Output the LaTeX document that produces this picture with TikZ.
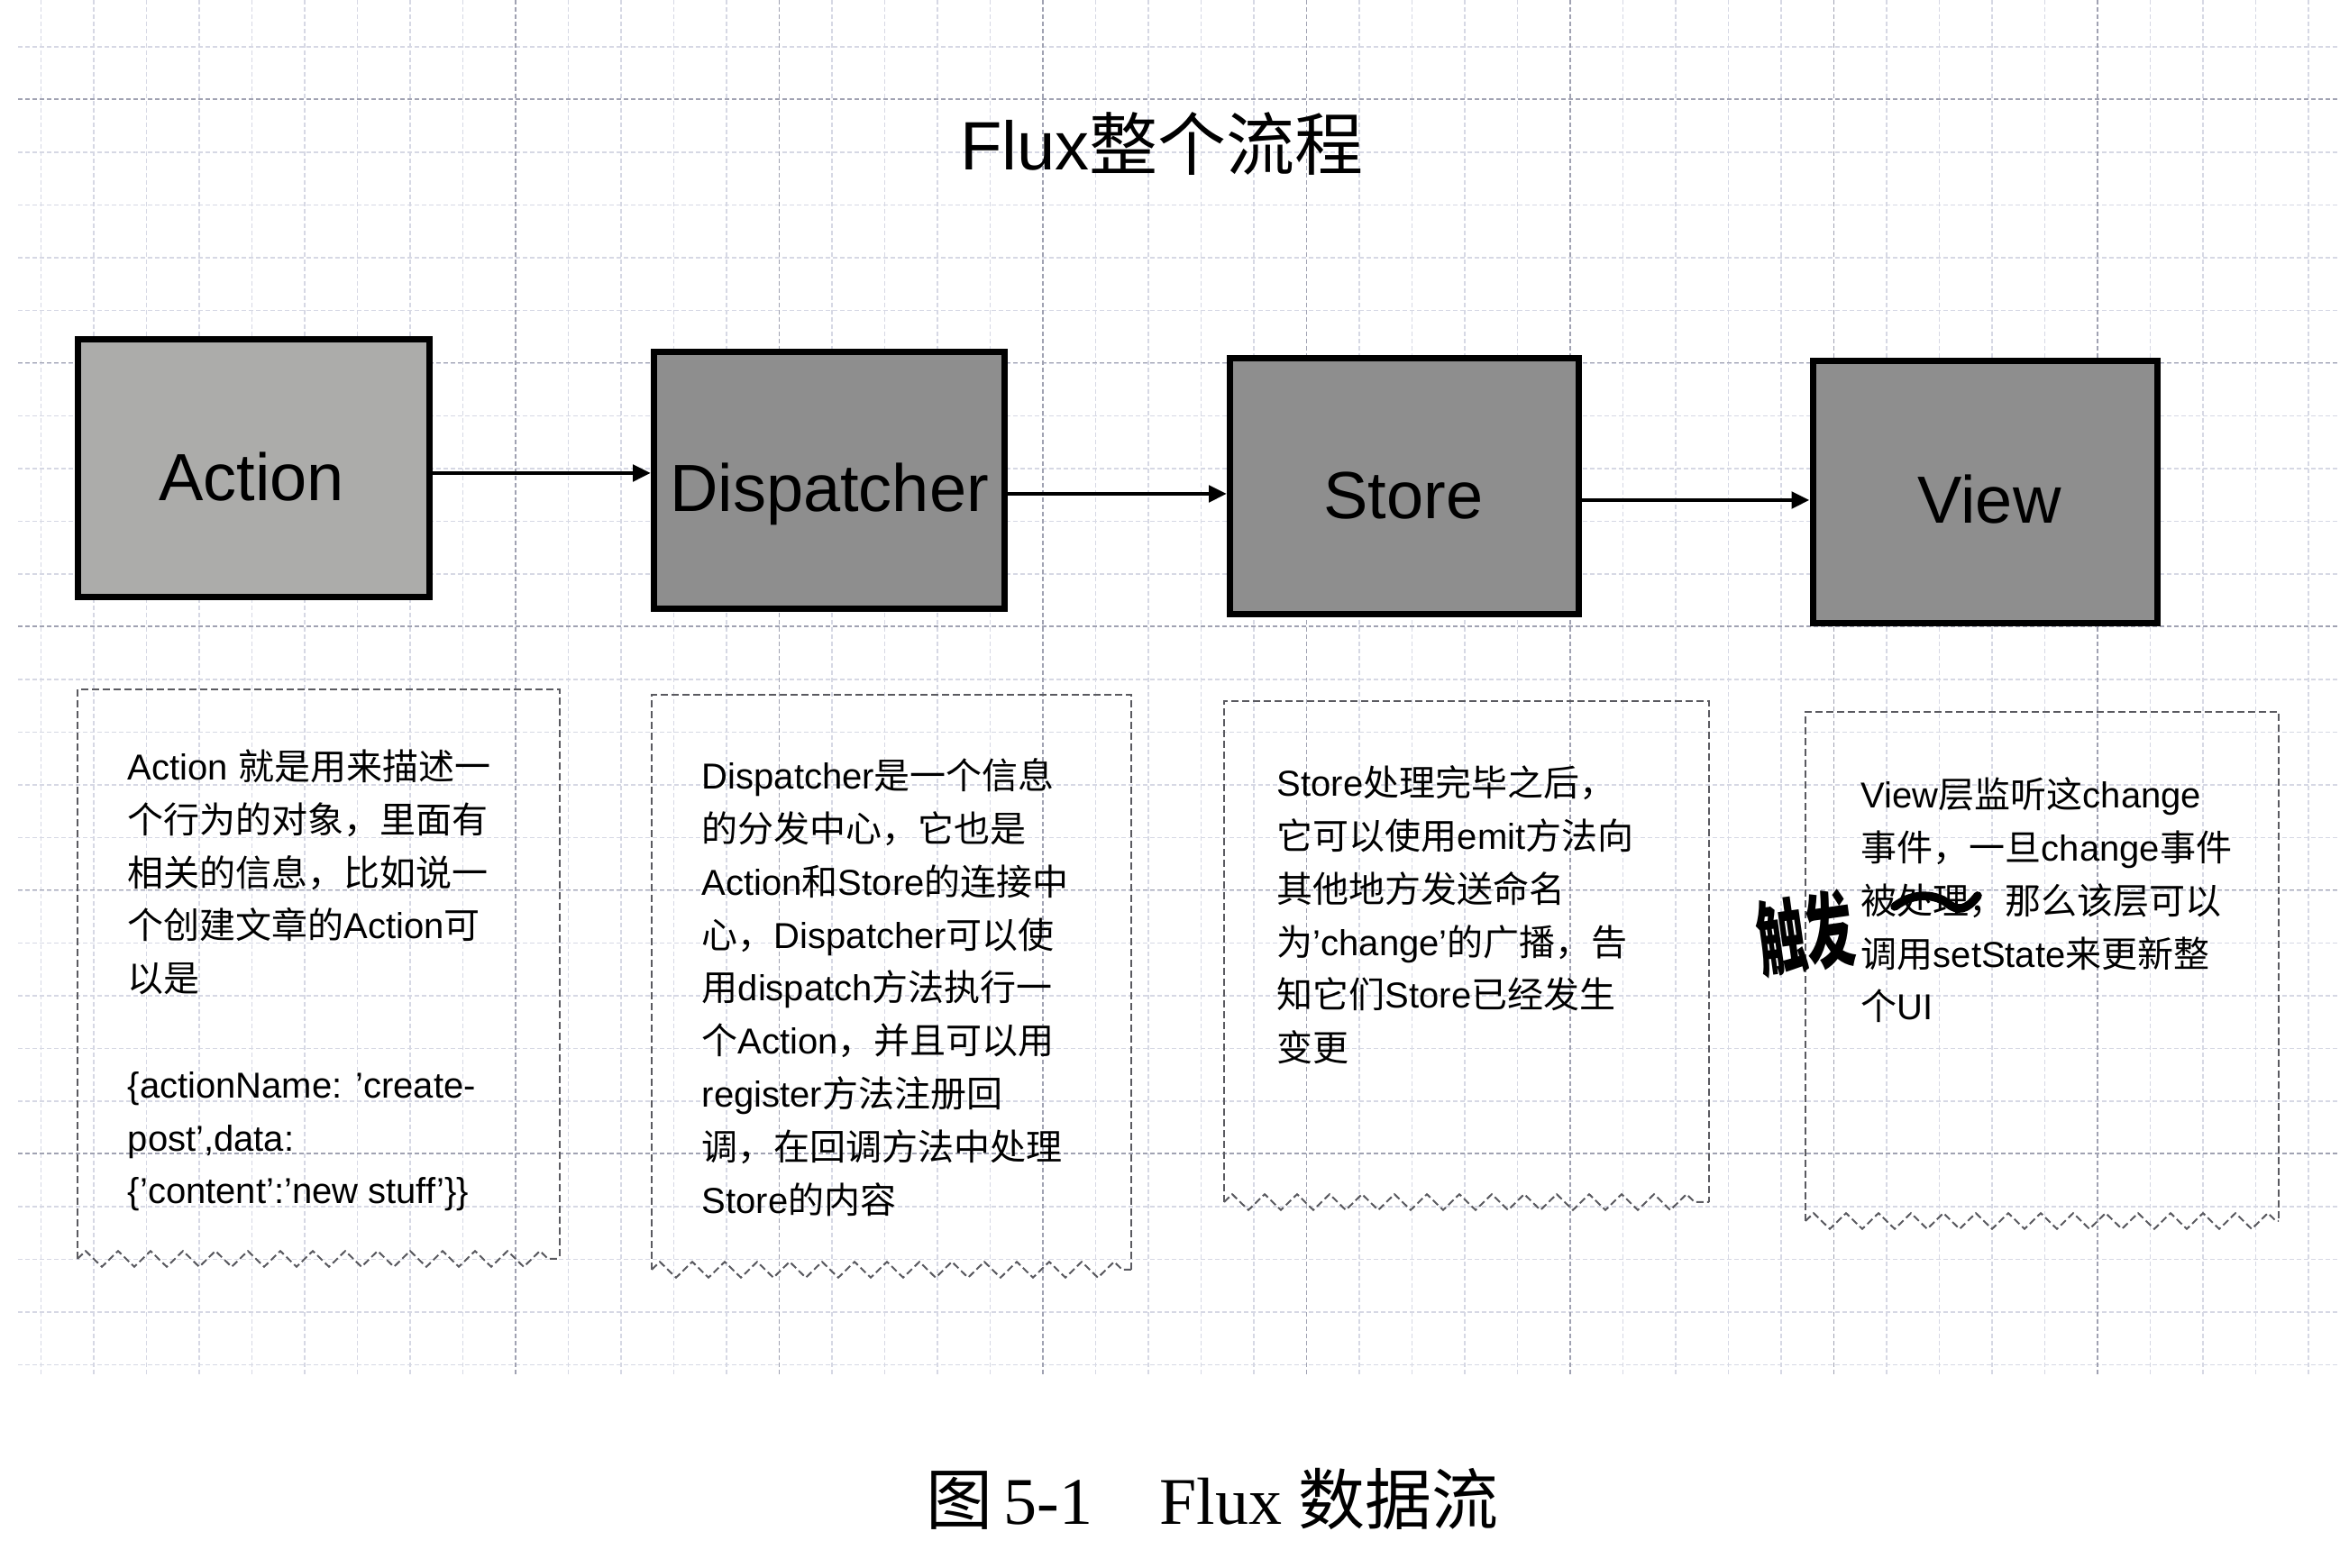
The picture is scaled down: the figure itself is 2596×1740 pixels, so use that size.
\documentclass[tikz,border=0pt]{standalone}
\usepackage{fontspec}
\setmainfont{Liberation Sans}
\newfontfamily\zhfont{Noto Sans CJK SC}
\newfontfamily\capserif{Liberation Serif}
\usetikzlibrary{arrows.meta,decorations.pathmorphing}
\newcommand\zh[1]{{\zhfont #1}}
\definecolor{gridc}{RGB}{214,216,228}
\definecolor{gridd}{RGB}{160,162,178}
\definecolor{actionfill}{RGB}{172,172,170}
\definecolor{stagefill}{RGB}{142,142,142}
\definecolor{framec}{RGB}{90,90,96}
\begin{document}
\begin{tikzpicture}[x=0.25pt,y=-0.25pt,
  gridminor/.style={draw=gridc, line width=0.35pt, dash pattern=on 1.2pt off 0.8pt},
  gridmajor/.style={draw=gridd, line width=0.4pt, dash pattern=on 1.2pt off 0.8pt},
  stage/.style={draw=black, line width=1.75pt, fill=stagefill, inner sep=0pt},
  stagelabel/.style={inner sep=0pt, font=\fontsize{18.5}{20}\selectfont},
  flow/.style={line width=1.2pt, -{Triangle[length=5pt,width=4.5pt]}},
  notebox/.style={draw=framec, line width=0.5pt, dash pattern=on 2pt off 1pt},
  zig/.style={notebox, decorate, decoration={zigzag, segment length=9pt, amplitude=2.2pt}},
  desc/.style={anchor=north west, align=left, inner sep=0pt,
    font=\fontsize{10}{14.7}\selectfont}]
\useasboundingbox (0,0) rectangle (2596,1740);
\fill[white] (0,0) rectangle (2596,1740);

% notebook grid
\foreach \k in {0,...,25} {
  \pgfmathsetmacro\yy{52+\k*58.5}
  \draw[gridminor] (20,\yy) -- (2596,\yy);
}
\foreach \k in {0,...,43} {
  \pgfmathsetmacro\xx{45.5+\k*58.5}
  \draw[gridminor] (\xx,0) -- (\xx,1525);
}
\foreach \yy in {110,402.5,695,987.5,1280}
  \draw[gridmajor] (20,\yy) -- (2596,\yy);
\foreach \xx in {572,864.5,1157,1449.5,1742,2034.5,2327}
  \draw[gridmajor] (\xx,0) -- (\xx,1525);

% title
\node (title) at (1289,160) {\fontsize{19}{22}\selectfont Flux\zh{整个流程}};

% the four stages
\node[stage, fill=actionfill, minimum width=97.5pt, minimum height=71.5pt] (action) at (281,520) {};
\node[stage, minimum width=97.25pt, minimum height=71.25pt] (dispatcher) at (920,533) {};
\node[stage, minimum width=96.75pt, minimum height=71pt] (store) at (1558,540) {};
\node[stage, minimum width=95.5pt, minimum height=72.75pt] (view) at (2202,546) {};
\node[stagelabel] (actionlabel) at (279,529) {Action};
\node[stagelabel] (dispatcherlabel) at (920,548) {Dispatcher};
\node[stagelabel] (storelabel) at (1557,550) {Store};
\node[stagelabel] (viewlabel) at (2207,554) {View};

\draw[flow] (action.east |- 0,525) -- (dispatcher.west |- 0,525);
\draw[flow] (dispatcher.east |- 0,548) -- (store.west |- 0,548);
\draw[flow] (store.east |- 0,555) -- (view.west |- 0,555);

% note frames: dashed sides, zigzag bottom
\draw[notebox] (86,1397) -- (86,765) -- (621,765) -- (621,1397);
\draw[zig] (86,1397) -- (621,1397);
\draw[notebox] (723,1409) -- (723,771) -- (1255,771) -- (1255,1409);
\draw[zig] (723,1409) -- (1255,1409);
\draw[notebox] (1358,1334) -- (1358,778) -- (1896,778) -- (1896,1334);
\draw[zig] (1358,1334) -- (1896,1334);
\draw[notebox] (2003,1355) -- (2003,790) -- (2528,790) -- (2528,1355);
\draw[zig] (2003,1355) -- (2528,1355);

% note texts
\node[desc] (actiontext) at (141,831) {Action \zh{就是用来描述一}\\
\zh{个行为的对象，里面有}\\
\zh{相关的信息，比如说一}\\
\zh{个创建文章的}Action\zh{可}\\
\zh{以是}\\[14.7pt]
\{actionName: 'create-\\
post',data:\\
\{'content':'new stuff'\}\}};

\node[desc] (dispatchertext) at (778,841) {Dispatcher\zh{是一个信息}\\
\zh{的分发中心，它也是}\\
Action\zh{和}Store\zh{的连接中}\\
\zh{心，}Dispatcher\zh{可以使}\\
\zh{用}dispatch\zh{方法执行一}\\
\zh{个}Action\zh{，并且可以用}\\
register\zh{方法注册回}\\
\zh{调，在回调方法中处理}\\
Store\zh{的内容}};

\node[desc] (storetext) at (1416,849) {Store\zh{处理完毕之后，}\\
\zh{它可以使用}emit\zh{方法向}\\
\zh{其他地方发送命名}\\
\zh{为}'change'\zh{的广播，告}\\
\zh{知它们}Store\zh{已经发生}\\
\zh{变更}};

\node[desc] (viewtext) at (2064,862) {View\zh{层监听这}change\\
\zh{事件，一旦}change\zh{事件}\\
\zh{被处理，那么该层可以}\\
\zh{调用}setState\zh{来更新整}\\
\zh{个}UI};

% handwritten correction
\draw[line width=2.4pt, line cap=round, line join=round]
  (2102,1006) .. controls (2125,988) and (2150,994) .. (2160,1002)
  .. controls (2172,1012) and (2182,1010) .. (2194,994);
\node[rotate=8, yscale=1.7, transform shape, inner sep=0pt] (remark) at (2003,1036)
  {\zhfont\bfseries\fontsize{13.5}{13.5}\selectfont 触发};

% caption
\node (caption) at (1345,1663) {\fontsize{18.5}{20}\selectfont\capserif \zh{图}\,5-1\quad Flux \zh{数据流}};
\end{tikzpicture}
\end{document}
